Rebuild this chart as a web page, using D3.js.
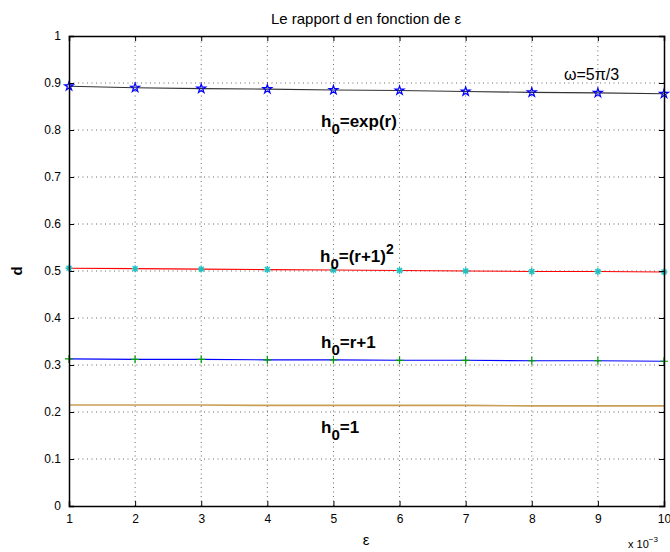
<!DOCTYPE html>
<html><head><meta charset="utf-8">
<script src="https://cdn.jsdelivr.net/npm/d3@7"></script>
<style>body{margin:0;background:#fff;}svg{display:block;font-family:Arial,"Liberation Sans",Helvetica,sans-serif;}</style>
</head><body>
<script>
const epsilons = [0.001,0.002,0.003,0.004,0.005,0.006,0.007,0.008,0.009,0.010];
const dExp   = [0.893,0.890,0.888,0.887,0.885,0.884,0.882,0.880,0.879,0.877];
const dSq    = [0.506,0.505,0.504,0.503,0.502,0.501,0.500,0.499,0.499,0.498];
const dLin   = [0.313,0.312,0.312,0.311,0.311,0.310,0.310,0.309,0.309,0.308];
const dOne   = [0.215,0.215,0.215,0.214,0.214,0.214,0.214,0.213,0.213,0.213];
const xTickLabels = ["1","2","3","4","5","6","7","8","9","10"];
const yTicks = [0,0.1,0.2,0.3,0.4,0.5,0.6,0.7,0.8,0.9,1];

const W=670,H=552;
const m={left:69,right:6,top:36,bottom:46};
const svg=d3.select("body").append("svg").attr("width",W).attr("height",H);
const x=d3.scaleLinear().domain([0.001,0.010]).range([m.left,W-m.right]);
const y=d3.scaleLinear().domain([0,1]).range([H-m.bottom,m.top]);

// grid
const g=svg.append("g");
g.selectAll("line.vg").data(epsilons.slice(1,-1)).join("line")
 .attr("x1",d=>x(d)).attr("x2",d=>x(d)).attr("y1",y(0)).attr("y2",y(1))
 .attr("stroke","#000").attr("stroke-opacity",0.6).attr("stroke-dasharray","1,3.5");
g.selectAll("line.hg").data(yTicks.slice(1,-1)).join("line")
 .attr("y1",d=>y(d)).attr("y2",d=>y(d)).attr("x1",x(0.001)).attr("x2",x(0.010))
 .attr("stroke","#000").attr("stroke-opacity",0.6).attr("stroke-dasharray","1,3.5");

// series
const series=[
 {v:dOne,line:"#c99e55",marker:null},
 {v:dLin,line:"#0000ff",marker:"plus",mc:"#00a000"},
 {v:dSq,line:"#ff0000",marker:"asterisk",mc:"#20c0c0"},
 {v:dExp,line:"#333333",marker:"star",mc:"#0000ff"}
];
const line=d3.line().x((d,i)=>x(epsilons[i])).y(d=>y(d));
series.forEach(s=>{
  svg.append("path").datum(s.v).attr("d",line).attr("fill","none").attr("stroke",s.line).attr("stroke-width",s.marker?1.1:1.6);
  if(!s.marker) return;
  const mg=svg.append("g");
  s.v.forEach((d,i)=>{
    const cx=x(epsilons[i]),cy=y(d);
    if(s.marker==="plus"){
      mg.append("path").attr("d",`M${cx-4},${cy}H${cx+4}M${cx},${cy-4}V${cy+4}`).attr("stroke",s.mc).attr("stroke-width",1.2);
    } else if(s.marker==="asterisk"){
      let p="";
      for(let k=0;k<4;k++){const a=k*Math.PI/4;p+=`M${cx-3.5*Math.cos(a)},${cy-3.5*Math.sin(a)}L${cx+3.5*Math.cos(a)},${cy+3.5*Math.sin(a)}`;}
      mg.append("path").attr("d",p).attr("stroke",s.mc).attr("stroke-width",1.4);
    } else {
      mg.append("path").attr("d",d3.symbol(d3.symbolStar,24)()).attr("transform",`translate(${cx},${cy})`)
        .attr("fill","none").attr("stroke",s.mc).attr("stroke-width",1.2);
    }
  });
});

// axes box
const ax=svg.append("g");
const xb=d3.axisBottom(x).tickValues(epsilons).tickSize(-5).tickPadding(8).tickFormat((d,i)=>xTickLabels[i]);
const yl=d3.axisLeft(y).tickValues(yTicks).tickSize(-5).tickPadding(8).tickFormat(d3.format("~g"));
const xt=d3.axisTop(x).tickValues(epsilons).tickSize(-5).tickFormat("");
const yr=d3.axisRight(y).tickValues(yTicks).tickSize(-5).tickFormat("");
ax.append("g").attr("transform",`translate(0,${y(0)})`).call(xb);
ax.append("g").attr("transform",`translate(${x(0.001)},0)`).call(yl);
ax.append("g").attr("transform",`translate(0,${y(1)})`).call(xt);
ax.append("g").attr("transform",`translate(${x(0.010)},0)`).call(yr);
ax.selectAll(".domain").attr("stroke","#000").attr("stroke-width",1.5);
ax.selectAll(".tick line").attr("stroke","#000");
ax.selectAll(".tick text").attr("font-size",12).attr("fill","#000").attr("font-family","Arial, Liberation Sans, sans-serif");

// texts
svg.append("text").attr("x",366).attr("y",24).attr("text-anchor","middle").attr("font-size",15).text("Le rapport d en fonction de ε");
svg.append("text").attr("x",366).attr("y",545).attr("text-anchor","middle").attr("font-size",15).text("ε");
svg.append("text").attr("transform","translate(22,271) rotate(-90)").attr("text-anchor","middle").attr("font-size",15).attr("font-weight","bold").text("d");
const mult=svg.append("text").attr("x",628).attr("y",548).attr("font-size",11);
mult.append("tspan").text("x 10");
mult.append("tspan").attr("dy",-6).attr("font-size",8).text("−3");
svg.append("text").attr("x",564).attr("y",80).attr("font-size",16).text("ω=5π/3");

function hlabel(px,py,rest,sup){
  const t=svg.append("text").attr("x",px).attr("y",py).attr("font-size",17).attr("font-weight","bold");
  t.append("tspan").text("h");
  t.append("tspan").attr("dy",7).attr("font-size",15).text("0");
  t.append("tspan").attr("dy",-7).text(rest);
  if(sup){t.append("tspan").attr("dy",-8).attr("font-size",14).text(sup);}
}
hlabel(321,127,"=exp(r)");
hlabel(320,262,"=(r+1)","2");
hlabel(321,348,"=r+1");
hlabel(321,433,"=1");
</script>
</body></html>
